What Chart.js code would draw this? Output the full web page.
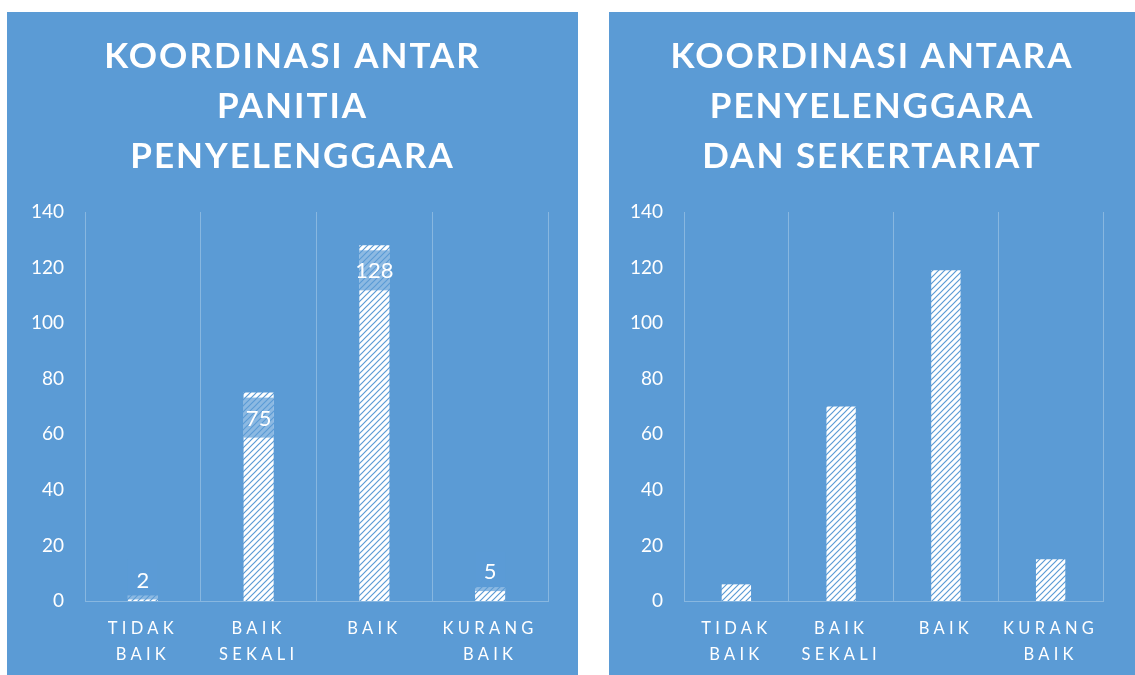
<!DOCTYPE html>
<html>
<head>
<meta charset="utf-8">
<script src="https://cdn.jsdelivr.net/npm/chart.js@4/dist/chart.umd.min.js"></script>
<style>
    body { margin: 0; background: #ffffff; width: 1135px; height: 675px; overflow: hidden; }
    .panel { position: absolute; top: 12px; height: 663px; background: #5b9bd5; }
    #panelLeft { left: 7px; width: 571px; }
    #panelRight { left: 609px; width: 526px; }
</style>
</head>
<body>
<div class="panel" id="panelLeft"><canvas id="panitiaChart"></canvas></div>
<div class="panel" id="panelRight"><canvas id="sekretariatChart"></canvas></div>
<script>
// Data
const categories = [['TIDAK', 'BAIK'], ['BAIK', 'SEKALI'], 'BAIK', ['KURANG', 'BAIK']];
const panitiaValues = [2, 75, 128, 5];
const sekretariatValues = [6, 70, 119, 15];
const panitiaTitle = ['KOORDINASI ANTAR', 'PANITIA', 'PENYELENGGARA'];
const sekretariatTitle = ['KOORDINASI ANTARA', 'PENYELENGGARA', 'DAN SEKERTARIAT'];
const yMin = 0;
const yMax = 140;
const yStep = 20;

const PANEL_BLUE = '#5b9bd5';
const GRID_COLOR = 'rgba(255, 255, 255, 0.28)';
const FONT = 'Lato, "Open Sans", sans-serif';

// Wide upward diagonal hatch, like the Excel pattern fill
function makeHatch() {
    const c = document.createElement('canvas');
    c.width = 6;
    c.height = 6;
    const p = c.getContext('2d');
    p.fillStyle = '#ffffff';
    p.fillRect(0, 0, 6, 6);
    p.strokeStyle = PANEL_BLUE;
    p.lineWidth = 1.2;
    p.beginPath();
    p.moveTo(-1, 1); p.lineTo(1, -1);
    p.moveTo(0, 6); p.lineTo(6, 0);
    p.moveTo(5, 7); p.lineTo(7, 5);
    p.stroke();
    return p.createPattern(c, 'repeat');
}

// Scales with letter spacing on their labels
class SpacedCategoryScale extends Chart.CategoryScale {
    drawLabels(area) {
        this.ctx.save();
        this.ctx.letterSpacing = '4.3px';
        super.drawLabels(area);
        this.ctx.restore();
    }
}
SpacedCategoryScale.id = 'spacedCategory';
SpacedCategoryScale.defaults = Chart.CategoryScale.defaults;

class PlainLinearScale extends Chart.LinearScale {
    drawLabels(area) {
        this.ctx.save();
        this.ctx.letterSpacing = '0px';
        super.drawLabels(area);
        this.ctx.restore();
    }
}
PlainLinearScale.id = 'plainLinear';
PlainLinearScale.defaults = Chart.LinearScale.defaults;

Chart.register(SpacedCategoryScale, PlainLinearScale);

// Title letter spacing
const titleSpacingPlugin = {
    id: 'titleSpacing',
    beforeDraw(chart) { chart.ctx.letterSpacing = '2px'; },
    afterDraw(chart) { chart.ctx.letterSpacing = '0px'; }
};

// Value labels with a translucent box, as in the left chart
const valueLabelPlugin = {
    id: 'valueLabels',
    afterDatasetsDraw(chart, args, opts) {
        if (!opts.show) return;
        const ctx = chart.ctx;
        const meta = chart.getDatasetMeta(0);
        const data = chart.data.datasets[0].data;
        ctx.save();
        ctx.letterSpacing = '0px';
        meta.data.forEach((bar, i) => {
            const w = bar.width;
            const h = bar.base - bar.y;
            const boxH = 40;
            const top = h > 60 ? bar.y + 5 : bar.y + 4 - boxH;
            ctx.fillStyle = 'rgba(91, 155, 213, 0.7)';
            ctx.fillRect(bar.x - w / 2, top, w, boxH);
            ctx.fillStyle = '#ffffff';
            ctx.font = '22px ' + FONT;
            ctx.textAlign = 'center';
            ctx.textBaseline = 'middle';
            ctx.fillText(String(data[i]), bar.x, top + boxH / 2 + 1);
        });
        ctx.restore();
    }
};

function buildChart(canvasId, titleLines, values, opts) {
    const ctx = document.getElementById(canvasId);
    if (!ctx) return;

    new Chart(ctx, {
        type: 'bar',
        data: {
            labels: categories,
            datasets: [{
                data: values,
                backgroundColor: makeHatch(),
                borderWidth: 0,
                categoryPercentage: 1,
                barPercentage: opts.barPercentage
            }]
        },
        options: {
            responsive: true,
            maintainAspectRatio: false,
            animation: false,
            layout: { padding: 0 },
            plugins: {
                legend: { display: false },
                tooltip: { enabled: false },
                title: {
                    display: true,
                    text: titleLines,
                    color: '#ffffff',
                    font: { family: FONT, size: 35, weight: 'bold', lineHeight: '50px' },
                    padding: { top: 20, bottom: 30 }
                },
                valueLabels: { show: opts.showLabels }
            },
            scales: {
                x: {
                    type: 'spacedCategory',
                    offset: true,
                    grid: { display: true, offset: true, color: GRID_COLOR, drawTicks: false },
                    border: { display: true, color: GRID_COLOR },
                    ticks: {
                        color: '#ffffff',
                        font: { family: FONT, size: 16.5, lineHeight: '26px' },
                        maxRotation: 0,
                        autoSkip: false,
                        padding: 15
                    },
                    afterFit: s => { s.height = 74; }
                },
                y: {
                    type: 'plainLinear',
                    min: yMin,
                    max: yMax,
                    grid: { display: false, drawTicks: false },
                    border: { display: false },
                    ticks: {
                        stepSize: yStep,
                        color: '#ffffff',
                        font: { family: FONT, size: 19 },
                        padding: 21
                    },
                    afterFit: s => { s.width = opts.leftWidth; }
                },
                yRight: {
                    type: 'linear',
                    position: 'right',
                    display: true,
                    grid: { display: false, drawTicks: false },
                    border: { display: false },
                    ticks: { display: false },
                    afterFit: s => { s.width = opts.rightWidth; }
                }
            }
        },
        plugins: [titleSpacingPlugin, valueLabelPlugin]
    });
}

buildChart('panitiaChart', panitiaTitle, panitiaValues, {
    barPercentage: 0.26, leftWidth: 78, rightWidth: 30, showLabels: true
});
buildChart('sekretariatChart', sekretariatTitle, sekretariatValues, {
    barPercentage: 0.28, leftWidth: 75, rightWidth: 32, showLabels: false
});
</script>
</body>
</html>
